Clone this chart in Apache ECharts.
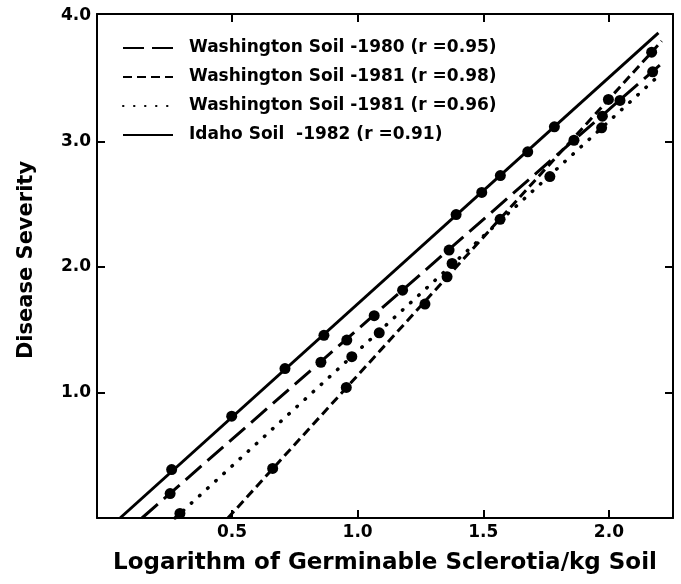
<!DOCTYPE html>
<html>
<head>
<meta charset="utf-8">
<script src="https://cdn.jsdelivr.net/npm/echarts@6/dist/echarts.min.js"></script>
<style>
html,body{margin:0;padding:0;background:#fff;}
#chart{width:681px;height:584px;}
</style>
</head>
<body>
<div id="chart"></div>
<script>
// ---- data ----
const seriesNames = [
  'Washington Soil -1980 (r =0.95)',
  'Washington Soil -1981 (r =0.98)',
  'Washington Soil -1981 (r =0.96)',
  'Idaho Soil  -1982 (r =0.91)'
];
const xTickValues = [0.5, 1.0, 1.5, 2.0];
const yTickValues = [1, 2, 3];
const yLabelValues = [1, 2, 3, 4];

// observed points
const wash1980Pts = [[0.254,0.195],[0.854,1.241],[0.957,1.418],[1.066,1.612],[1.179,1.815],[1.364,2.135],[1.861,3.010],[1.974,3.202],[2.044,3.327],[2.174,3.555]];
const wash1981aPts = [[0.662,0.395],[0.955,1.040],[1.268,1.705],[1.356,1.922],[1.567,2.380],[1.998,3.335],[2.170,3.712]];
const wash1981bPts = [[0.293,0.036],[0.977,1.285],[1.086,1.476],[1.376,2.028],[1.765,2.721],[1.971,3.109]];
const idahoPts = [[0.260,0.386],[0.499,0.811],[0.711,1.191],[0.866,1.456],[1.392,2.418],[1.494,2.594],[1.568,2.729],[1.677,2.918],[1.783,3.117]];

// regression line end points
const wash1980Line = [[0.142,0],[2.203,3.61]];
const wash1981aLine = [[0.484,0],[2.210,3.80]];
const wash1981bLine = [[0.274,0],[2.203,3.533]];
const idahoLine = [[0.055,0],[2.197,3.866]];

// ---- chart ----
const FONT = 'DejaVu Sans';
const INK = '#000';
const chart = echarts.init(document.getElementById('chart'), null, {renderer:'canvas'});

function axisCommon(){
  return {
    type:'value',
    axisLine:{show:true, onZero:false, lineStyle:{color:INK, width:2}},
    splitLine:{show:false}
  };
}

const lineStyles = [
  {color:INK, width:3, type:[21,8]},
  {color:INK, width:3, type:[9,5]},
  {color:INK, width:3.5, type:[0.5,10.5], cap:'round'},
  {color:INK, width:3, type:'solid'}
];
const lines = [wash1980Line, wash1981aLine, wash1981bLine, idahoLine];
const pts = [wash1980Pts, wash1981aPts, wash1981bPts, idahoPts];

const series = [];
lines.forEach((d,i)=>{
  series.push({
    name: seriesNames[i], type:'line', data:d, symbol:'none',
    lineStyle: lineStyles[i], itemStyle:{color:INK}, z:2, silent:true
  });
});
pts.forEach((d,i)=>{
  series.push({
    name:'pts'+i, type:'scatter', data:d, symbol:'circle', symbolSize:11,
    itemStyle:{color:INK, opacity:1}, z:3, silent:true
  });
});

const xMin = -0.037, xMax = 2.255, yMin = 0, yMax = 4.016;

chart.setOption({
  animation:false,
  backgroundColor:'#fff',
  grid:{left:97, right:8, top:14, bottom:66},
  legend:{
    data: seriesNames,
    orient:'vertical', left:122, top:39, padding:0,
    itemWidth:50, itemHeight:14, itemGap:11,
    selectedMode:false,
    itemStyle:{opacity:0},
    textStyle:{fontFamily:FONT, fontWeight:'bold', fontSize:17, color:INK, lineHeight:18, padding:[0,0,0,11]}
  },
  xAxis:[
    Object.assign(axisCommon(), {
      position:'bottom', min:xMin, max:xMax,
      axisTick:{show:true, inside:true, length:8, customValues:xTickValues, lineStyle:{color:INK,width:2}},
      axisLabel:{customValues:xTickValues, formatter:v=>v.toFixed(1), fontFamily:FONT, fontWeight:'bold', fontSize:17, color:INK, margin:6},
      name:'Logarithm of Germinable Sclerotia/kg Soil', nameLocation:'middle', nameGap:34,
      nameTextStyle:{fontFamily:FONT, fontWeight:'bold', fontSize:23, color:INK}
    }),
    Object.assign(axisCommon(), {
      position:'top', min:xMin, max:xMax,
      axisTick:{show:true, inside:true, length:8, customValues:xTickValues, lineStyle:{color:INK,width:2}},
      axisLabel:{show:false}
    })
  ],
  yAxis:[
    Object.assign(axisCommon(), {
      position:'left', min:yMin, max:yMax,
      axisTick:{show:true, inside:true, length:8, customValues:yTickValues, lineStyle:{color:INK,width:2}},
      axisLabel:{customValues:yLabelValues, formatter:v=>v.toFixed(1), fontFamily:FONT, fontWeight:'bold', fontSize:17, color:INK, margin:6},
      name:'Disease Severity', nameLocation:'middle', nameGap:60, nameRotate:90,
      nameTextStyle:{fontFamily:FONT, fontWeight:'bold', fontSize:21, color:INK, padding:[0,0,0,12]}
    }),
    Object.assign(axisCommon(), {
      position:'right', min:yMin, max:yMax,
      axisTick:{show:true, inside:true, length:8, customValues:yTickValues, lineStyle:{color:INK,width:2}},
      axisLabel:{show:false}
    })
  ],
  series: series
});
</script>
</body>
</html>
